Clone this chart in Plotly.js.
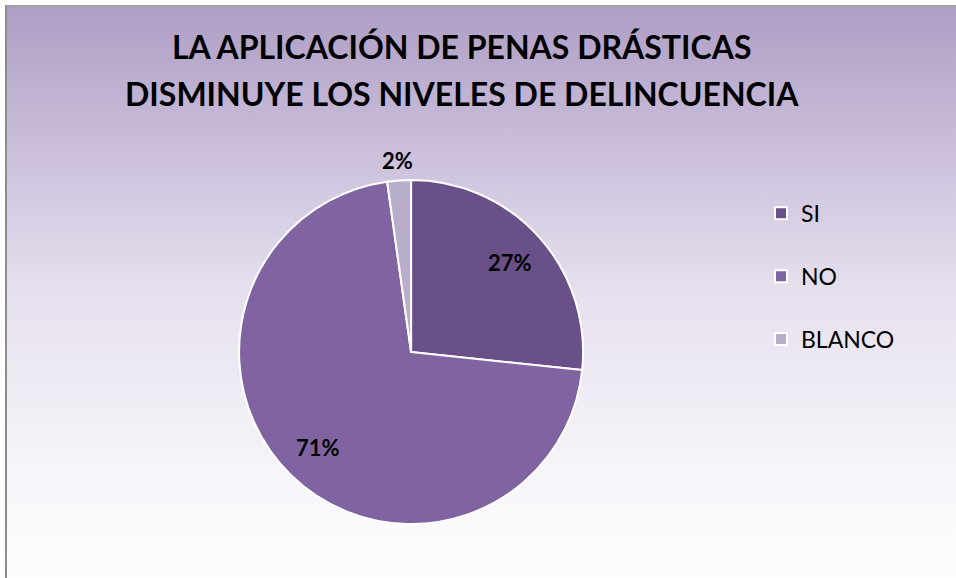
<!DOCTYPE html>
<html>
<head>
<meta charset="utf-8">
<script src="https://cdn.plot.ly/plotly-3.0.1.min.js"></script>
<style>
  html, body { margin: 0; padding: 0; background: #ffffff; }
  #wrap { position: absolute; left: 0; top: 0; width: 956px; height: 578px; overflow: hidden; }
  #bg { position: absolute; left: 5px; top: 5px; width: 951px; height: 573px;
        border-left: 2px solid #8c8c8c; border-top: 2px solid #a0a0a0; box-sizing: border-box;
        background: linear-gradient(to bottom, #ae9ec5 0%, #cbbfdb 25%, #e6e0ee 50%, #f6f4f9 80%, #fdfdfe 100%); }
  #chart { position: absolute; left: 0; top: 0; width: 956px; height: 578px; }
</style>
</head>
<body>
<div id="wrap">
  <div id="bg"></div>
  <div id="chart"></div>
</div>
<script>
const titleLines = ["LA APLICACIÓN DE PENAS DRÁSTICAS", "DISMINUYE LOS NIVELES DE DELINCUENCIA"];
const categories = ["SI", "NO", "BLANCO"];
const counts = [12, 32, 1];
const sliceColors = ["#6a5088", "#8064a2", "#b9adcc"];
const labelInside = [true, true, false];

const W = 956, H = 578;
const pieDomain = { x: [0.25, 0.61], y: [0.0934, 0.6886] };
const FONT = "Lato, 'Open Sans', sans-serif";

// percentage labels, placed along each slice's middle angle (computed from the data)
const total = counts.reduce((a, b) => a + b, 0);
const cx = (pieDomain.x[0] + pieDomain.x[1]) / 2 * W;
const cyUp = (pieDomain.y[0] + pieDomain.y[1]) / 2 * H;
const R = Math.min((pieDomain.x[1] - pieDomain.x[0]) * W, (pieDomain.y[1] - pieDomain.y[0]) * H) / 2;
let cum = 0;
const pctAnnotations = counts.map((v, i) => {
  const mid = (cum + v / 2) / total * 2 * Math.PI; // clockwise from 12 o'clock
  cum += v;
  const r = labelInside[i] ? 0.775 * R : R + 20;
  const px = cx + r * Math.sin(mid);
  const py = cyUp + r * Math.cos(mid);
  return {
    x: px / W, y: py / H, xref: "paper", yref: "paper",
    xanchor: "center", yanchor: "middle", showarrow: false,
    text: Math.round(v / total * 100) + "%",
    font: { family: FONT, size: 22, color: "#000000", weight: "bold" }
  };
});

const trace = {
  type: "pie",
  labels: categories.map(c => c + "<br>&nbsp;"),
  values: counts,
  sort: false,
  direction: "clockwise",
  rotation: 0,
  marker: { colors: sliceColors, line: { color: "#ffffff", width: 2 } },
  textinfo: "none",
  automargin: false,
  domain: pieDomain,
  hoverinfo: "percent"
};

const layout = {
  width: W,
  height: H,
  margin: { l: 0, r: 0, t: 0, b: 0 },
  paper_bgcolor: "rgba(0,0,0,0)",
  plot_bgcolor: "rgba(0,0,0,0)",
  title: {
    text: titleLines[0],
    x: 0.483, xanchor: "center", xref: "paper",
    y: 1 - 48 / H, yanchor: "middle", yref: "container",
    font: { family: FONT, size: 32, color: "#000000", weight: "bold" }
  },
  annotations: [
    {
      text: titleLines[1], x: 0.483, y: 1 - 93 / H, xref: "paper", yref: "paper",
      xanchor: "center", yanchor: "middle", showarrow: false,
      font: { family: FONT, size: 32, color: "#000000", weight: "bold" }
    }
  ].concat(pctAnnotations),
  showlegend: true,
  legend: {
    x: 0.796, xanchor: "left",
    y: 0.668, yanchor: "top",
    valign: "top",
    font: { family: FONT, size: 23, color: "#000000" },
    bgcolor: "rgba(0,0,0,0)",
    itemclick: false, itemdoubleclick: false
  }
};

Plotly.newPlot("chart", [trace], layout, { displayModeBar: false, staticPlot: true });
</script>
</body>
</html>
